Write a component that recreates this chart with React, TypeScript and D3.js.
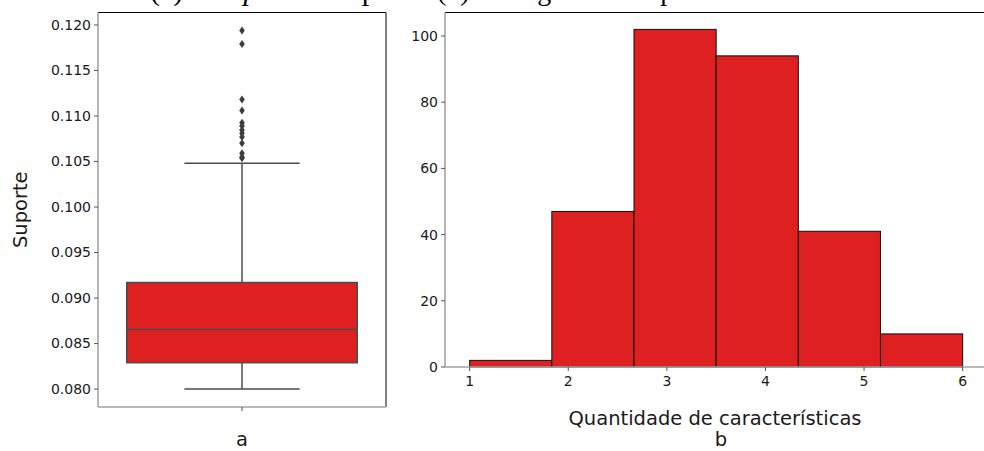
import { useEffect } from "react";
import * as d3 from "d3";

// --- data ---
// (a) boxplot of "Suporte"
const boxQ1 = 0.0829;
const boxMedian = 0.08655;
const boxQ3 = 0.0917;
const whiskerLow = 0.08;
const whiskerHigh = 0.1048;
const outliers = [
  0.1194, 0.1179, 0.1118, 0.1106, 0.10925, 0.1089, 0.10845, 0.1081, 0.1077,
  0.107, 0.1059, 0.1055, 0.10535,
];
const supportTicks = [0.08, 0.085, 0.09, 0.095, 0.1, 0.105, 0.11, 0.115, 0.12];

// (b) histogram of "Quantidade de características"
const histCounts = [2, 47, 102, 94, 41, 10];
const histMin = 1;
const histMax = 6;
const countTicks = [0, 20, 40, 60, 80, 100];
const featureTicks = [1, 2, 3, 4, 5, 6];

const RED = "#df2020";
const LINE = "#4c4c4c";
const SPINE = "#a3a3a3";
const FONT = "DejaVu Sans, sans-serif";
const LABEL_SIZE = 19.5;

export default function App() {
  useEffect(() => {
    document.body.style.margin = "0";
  }, []);

  // left panel frame
  const L = { x0: 98, x1: 386, y0: 12.5, y1: 407 };
  const yA = d3
    .scaleLinear()
    .domain([
      whiskerLow - (d3.max(outliers)! - whiskerLow) * 0.05,
      d3.max(outliers)! + (d3.max(outliers)! - whiskerLow) * 0.05,
    ])
    .range([L.y1, L.y0]);
  const xA = d3.scaleLinear().domain([-0.5, 0.5]).range([L.x0, L.x1]);

  // right panel frame
  const R = { x0: 445, y0: 12.5, y1: 367 };
  const binW = (histMax - histMin) / histCounts.length;
  const xB = d3
    .scaleLinear()
    .domain([histMin - (histMax - histMin) * 0.05, histMax + (histMax - histMin) * 0.05])
    .range([R.x0, 445 + 5.5 * 98.6]);
  const yB = d3
    .scaleLinear()
    .domain([0, d3.max(histCounts)! * 1.05])
    .range([R.y1, R.y0]);

  const bins = histCounts.map((c, i) => ({
    x0: histMin + i * binW,
    x1: histMin + (i + 1) * binW,
    c,
  }));

  const diamond = (cx: number, cy: number) =>
    `M${cx},${cy - 4}L${cx + 2.8},${cy}L${cx},${cy + 4}L${cx - 2.8},${cy}Z`;

  return (
    <svg width={984} height={451} style={{ display: "block", background: "#fff" }}>
      {/* captions cut off at the very top: only the descenders show */}
      <text x={150} y={0} fontFamily="Liberation Serif, serif" fontSize={30} fill="#000">
        (a) <tspan fontStyle="italic" dx={6}>Boxplot</tspan> do suporte
      </text>
      <text x={437} y={0} fontFamily="Liberation Serif, serif" fontSize={28} fill="#000">
        (b) Histograma dos padrões
      </text>

      {/* ---------- panel a ---------- */}
      <g>
        {/* whiskers */}
        <line x1={xA(0)} x2={xA(0)} y1={yA(boxQ3)} y2={yA(whiskerHigh)} stroke={LINE} strokeWidth={1.5} />
        <line x1={xA(0)} x2={xA(0)} y1={yA(boxQ1)} y2={yA(whiskerLow)} stroke={LINE} strokeWidth={1.5} />
        <line x1={xA(-0.2)} x2={xA(0.2)} y1={yA(whiskerHigh)} y2={yA(whiskerHigh)} stroke={LINE} strokeWidth={1.5} />
        <line x1={xA(-0.2)} x2={xA(0.2)} y1={yA(whiskerLow)} y2={yA(whiskerLow)} stroke={LINE} strokeWidth={1.5} />
        {/* box */}
        <rect
          x={xA(-0.4)}
          y={yA(boxQ3)}
          width={xA(0.4) - xA(-0.4)}
          height={yA(boxQ1) - yA(boxQ3)}
          fill={RED}
          stroke={LINE}
          strokeWidth={1.6}
        />
        <line x1={xA(-0.4)} x2={xA(0.4)} y1={yA(boxMedian)} y2={yA(boxMedian)} stroke={LINE} strokeWidth={1.6} />
        {outliers.map((v, i) => (
          <path key={i} d={diamond(xA(0), yA(v))} fill="#3d3d3d" />
        ))}

        {/* spines */}
        <line x1={L.x0} x2={L.x1} y1={L.y0} y2={L.y0} stroke="#000" strokeWidth={1} />
        <line x1={L.x1} x2={L.x1} y1={L.y0} y2={L.y1} stroke="#000" strokeWidth={1} />
        <line x1={L.x0} x2={L.x0} y1={L.y0} y2={L.y1} stroke={SPINE} strokeWidth={1.6} />
        <line x1={L.x0} x2={L.x1} y1={L.y1} y2={L.y1} stroke={SPINE} strokeWidth={1.6} />

        {/* y ticks */}
        {supportTicks.map((t) => (
          <g key={t} transform={`translate(0,${yA(t)})`}>
            <line x1={L.x0 - 4} x2={L.x0} stroke="#555" strokeWidth={1} />
            <text x={L.x0 - 7} dy="0.35em" textAnchor="end" fontFamily={FONT} fontSize={14} fill="#1a1a1a">
              {d3.format(".3f")(t)}
            </text>
          </g>
        ))}
        {/* x tick */}
        <line x1={xA(0)} x2={xA(0)} y1={L.y1} y2={L.y1 + 4} stroke="#555" strokeWidth={1} />

        <text
          transform={`translate(20,${(L.y0 + L.y1) / 2}) rotate(-90)`}
          textAnchor="middle"
          dy="0.35em"
          fontFamily={FONT}
          fontSize={LABEL_SIZE}
          fill="#1a1a1a"
        >
          Suporte
        </text>
        <text x={xA(0)} y={446} textAnchor="middle" fontFamily={FONT} fontSize={LABEL_SIZE} fill="#1a1a1a">
          a
        </text>
      </g>

      {/* ---------- panel b ---------- */}
      <g>
        {bins.map((b, i) => (
          <rect
            key={i}
            x={xB(b.x0)}
            y={yB(b.c)}
            width={xB(b.x1) - xB(b.x0)}
            height={yB(0) - yB(b.c)}
            fill={RED}
            stroke="#111"
            strokeWidth={1}
          />
        ))}

        <line x1={R.x0} x2={984} y1={R.y0} y2={R.y0} stroke="#000" strokeWidth={1} />
        <line x1={R.x0} x2={R.x0} y1={R.y0} y2={R.y1} stroke={SPINE} strokeWidth={1.6} />
        <line x1={R.x0} x2={984} y1={R.y1} y2={R.y1} stroke={SPINE} strokeWidth={1.6} />

        {countTicks.map((t) => (
          <g key={t} transform={`translate(0,${yB(t)})`}>
            <line x1={R.x0 - 4} x2={R.x0} stroke="#555" strokeWidth={1} />
            <text x={R.x0 - 7} dy="0.35em" textAnchor="end" fontFamily={FONT} fontSize={14} fill="#1a1a1a">
              {t}
            </text>
          </g>
        ))}
        {featureTicks.map((t) => (
          <g key={t} transform={`translate(${xB(t)},0)`}>
            <line y1={R.y1} y2={R.y1 + 4} stroke="#555" strokeWidth={1} />
            <text y={R.y1 + 14} dy="0.35em" textAnchor="middle" fontFamily={FONT} fontSize={14} fill="#1a1a1a">
              {t}
            </text>
          </g>
        ))}

        <text x={715} y={425} textAnchor="middle" fontFamily={FONT} fontSize={LABEL_SIZE} fill="#1a1a1a">
          Quantidade de características
        </text>
        <text x={721} y={446} textAnchor="middle" fontFamily={FONT} fontSize={LABEL_SIZE} fill="#1a1a1a">
          b
        </text>
      </g>
    </svg>
  );
}
